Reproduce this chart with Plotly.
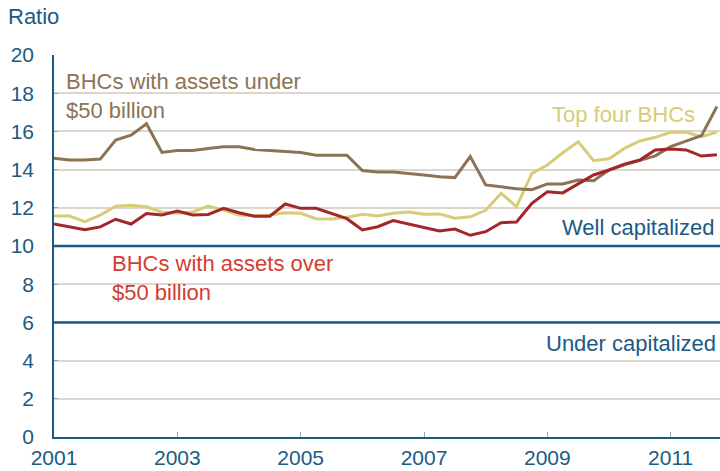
import plotly.graph_objects as go

# Quarterly observations, 2001 Q1 .. 2011 Q4
start_year = 2001
quarters = 44
x_years = [start_year + q * 0.25 for q in range(quarters)]

under_50b = [14.6, 14.5, 14.5, 14.55, 15.55, 15.8, 16.4, 14.9, 15.0, 15.0,
             15.1, 15.2, 15.2, 15.05, 15.0, 14.95, 14.9, 14.75, 14.75, 14.75,
             13.95, 13.88, 13.87, 13.8, 13.72, 13.62, 13.58, 14.68, 13.2, 13.1,
             13.0, 12.95, 13.25, 13.25, 13.45, 13.42, 13.98, 14.25, 14.5, 14.72,
             15.2, 15.5, 15.78, 17.3]

top_four = [11.57, 11.57, 11.28, 11.62, 12.08, 12.13, 12.05, 11.77, 11.72, 11.78,
            12.09, 11.88, 11.62, 11.58, 11.62, 11.74, 11.71, 11.43, 11.41, 11.5,
            11.66, 11.57, 11.71, 11.78, 11.66, 11.68, 11.45, 11.53, 11.87, 12.76,
            12.06, 13.8, 14.24, 14.88, 15.46, 14.47, 14.57, 15.11, 15.5, 15.69,
            15.95, 15.95, 15.72, 15.97]

over_50b = [11.15, 11.0, 10.85, 11.0, 11.4, 11.15, 11.7, 11.62, 11.83, 11.62,
            11.65, 11.97, 11.74, 11.56, 11.56, 12.2, 11.97, 11.97, 11.68, 11.43,
            10.84, 11.01, 11.33, 11.15, 10.98, 10.79, 10.89, 10.56, 10.75, 11.22,
            11.26, 12.24, 12.84, 12.78, 13.25, 13.72, 13.98, 14.29, 14.5, 15.03,
            15.08, 15.03, 14.71, 14.78]

well_capitalized = 10
under_capitalized = 6

x_tick_vals = [2001, 2003, 2005, 2007, 2009, 2011]
x_tick_text = ["2001", "2003", "2005", "2007", "2009", "2011"]
y_tick_vals = [0, 2, 4, 6, 8, 10, 12, 14, 16, 18, 20]

BLUE = "#1B5A85"
BROWN = "#8C7355"
YELLOW = "#D8CC78"
RED_LINE = "#A3272A"
RED_TEXT = "#D43D30"
GRID = "#DCD7CC"
FONT = "Liberation Sans, Arial, sans-serif"

fig = go.Figure()

for y, c in [(top_four, YELLOW), (under_50b, BROWN), (over_50b, RED_LINE)]:
    fig.add_trace(go.Scatter(x=x_years, y=y, mode="lines",
                             line=dict(color=c, width=3), hoverinfo="skip"))

for lvl in [well_capitalized, under_capitalized]:
    fig.add_shape(type="line", xref="paper", x0=0, x1=1, yref="y", y0=lvl, y1=lvl,
                  line=dict(color=BLUE, width=2.5), layer="above")

ann_font = dict(family=FONT, size=22)
fig.add_annotation(x=2001.17, y=17.83, xanchor="left", yanchor="middle",
                   text="BHCs with assets under<br>$50 billion", showarrow=False,
                   align="left", font=dict(ann_font, color=BROWN))
fig.add_annotation(x=2001.9, y=8.35, xanchor="left", yanchor="middle",
                   text="BHCs with assets over<br>$50 billion", showarrow=False,
                   align="left", font=dict(ann_font, color=RED_TEXT))
fig.add_annotation(x=2011.43, y=16.9, xanchor="right", yanchor="middle",
                   text="Top four BHCs", showarrow=False,
                   font=dict(ann_font, color=YELLOW))
fig.add_annotation(x=2011.73, y=10.99, xanchor="right", yanchor="middle",
                   text="Well capitalized", showarrow=False,
                   font=dict(ann_font, color=BLUE))
fig.add_annotation(x=2011.76, y=4.87, xanchor="right", yanchor="middle",
                   text="Under capitalized", showarrow=False,
                   font=dict(ann_font, color=BLUE))
fig.add_annotation(xref="paper", yref="paper", x=-0.072, y=1.0995,
                   xanchor="left", yanchor="middle", text="Ratio", showarrow=False,
                   font=dict(ann_font, color=BLUE))

fig.update_layout(
    width=720, height=471,
    margin=dict(l=54, r=0, t=55, b=34),
    paper_bgcolor="white", plot_bgcolor="white",
    showlegend=False,
    font=dict(family=FONT, size=21, color=BLUE),
)
fig.update_xaxes(range=[2001, 2011.8], tickvals=x_tick_vals, ticktext=x_tick_text,
                 showgrid=False, zeroline=False, showline=True, linecolor=BLUE,
                 linewidth=1.5, ticks="inside", ticklen=5, tickcolor="#8FA9BF",
                 ticklabelstandoff=1,
                 tickfont=dict(family=FONT, size=21, color=BLUE))
fig.update_yaxes(range=[0, 20], tickvals=y_tick_vals, showgrid=True, gridcolor=GRID,
                 gridwidth=1.5, zeroline=False, showline=True, linecolor=BLUE,
                 linewidth=1.5, ticks="inside", ticklen=4, tickcolor="#8FA9BF",
                 ticklabelstandoff=14,
                 tickfont=dict(family=FONT, size=21, color=BLUE))

fig.write_html("out.html", config={"displayModeBar": False},
               post_script="document.body.style.margin='0';document.body.style.overflow='hidden';")
